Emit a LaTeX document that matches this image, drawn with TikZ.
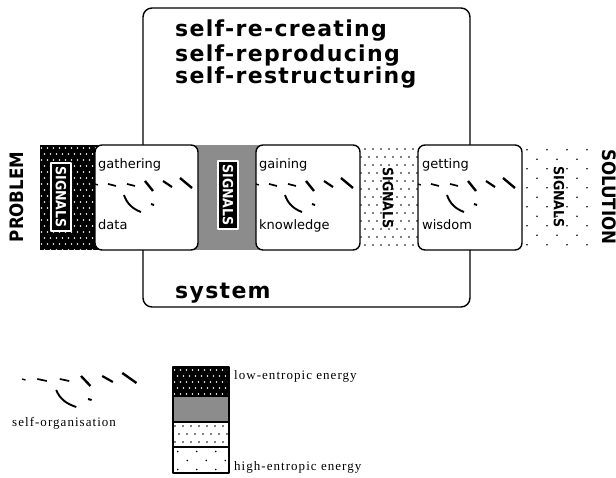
\documentclass[tikz,border=0pt]{standalone}
\usepackage{fontspec}
\setmainfont{DejaVu Sans}
\newfontfamily\titlefont[LetterSpace=6]{DejaVu Sans}
\newfontfamily\condfont{DejaVu Sans Condensed}
\newfontfamily\legendfont[LetterSpace=8]{Liberation Serif}

% staggered field of dots: x0 y0 x1 y1 dx dy colour
\newcommand\dotgrid[7]{%
  \begin{scope}
    \clip (#1,#2) rectangle (#3,#4);
    \pgfmathtruncatemacro\dgrows{(#4-#2)/#6+1}
    \pgfmathtruncatemacro\dgcols{(#3-#1)/#5+1}
    \foreach \r in {0,...,\dgrows}{
      \foreach \c in {0,...,\dgcols}{
        \pgfmathsetmacro\dgx{#1+#5/4+mod(\r,2)*#5/2+\c*#5}
        \pgfmathsetmacro\dgy{#2+#6/2+\r*#6}
        \fill[#7] (\dgx,\dgy) circle (0.95pt);
      }
    }
  \end{scope}}

\tikzset{
  band/.style={minimum height=105pt, inner sep=0pt, outer sep=0pt},
  stage/.style={draw, line width=1.4pt, rounded corners=7pt, fill=white,
    minimum height=105pt, inner sep=0pt},
  sigbox/.style={rotate=-90, fill=black, draw=white, line width=1.6pt, text=white,
    font=\condfont\bfseries\fontsize{14}{14}\selectfont, inner xsep=3pt, inner ysep=5pt},
  sigtext/.style={rotate=-90, font=\condfont\bfseries\fontsize{14}{14}\selectfont, inner sep=0pt},
  side/.style={font=\condfont\bfseries\fontsize{18.5}{18.5}\selectfont, inner sep=0pt},
  title/.style={anchor=base west, font=\titlefont\bfseries\fontsize{22}{22}\selectfont, inner sep=0pt},
  word/.style={anchor=base west, font=\fontsize{13}{13}\selectfont, inner sep=0pt},
  legendtext/.style={anchor=base west, font=\legendfont\fontsize{13}{13}\selectfont, inner sep=0pt},
  selforg/.pic={
    \draw[line width=1.3pt] (0,1) -- (3,2);
    \draw[line width=1.7pt] (13,1) -- (21,3);
    \draw[line width=1.7pt] (32,1) -- (40,3);
    \draw[line width=2.4pt] (50,-2) -- (58,8);
    \draw[line width=2.2pt] (68,-2) -- (77,4);
    \draw[line width=2.4pt] (85,-5) -- (97,5);
    \draw[line width=1.9pt] (29,12) .. controls (32,21) and (38,26) .. (46,29);
    \draw[line width=2pt] (56,21) -- (59,22);
  }
}

\begin{document}
\begin{tikzpicture}[x=1pt, y=-1pt, line join=round]
\useasboundingbox (0,0) rectangle (616,478);

% the system frame
\node[draw, line width=1.4pt, rounded corners=9pt, minimum width=327pt,
  minimum height=299pt, inner sep=0pt] (sys) at (306.5,157.5) {};

% energy bands
\node[band, fill=black, minimum width=60pt] (b1) at (70,197.5) {};
\node[band, fill=black!45, minimum width=68pt] (b2) at (227,197.5) {};
\node[band, fill=white, minimum width=68pt] (b3) at (389,197.5) {};
\node[band, minimum width=73pt] (b4) at (553.5,197.5) {};
\dotgrid{40}{145}{100}{250}{6}{6}{white}
\dotgrid{355}{145}{423}{250}{8}{8}{black}
\dotgrid{522}{145}{590}{250}{20}{9.5}{black}

% stages
\node[stage, minimum width=103pt] (s1) at (146.5,197.5) {};
\node[stage, minimum width=104pt] (s2) at (308,197.5) {};
\node[stage, minimum width=104pt] (s3) at (470,197.5) {};

\pic at (95,183) {selforg};
\pic at (256,183) {selforg};
\pic at (418,183) {selforg};

% signal labels
\node[sigbox] (l1) at (61,197) {SIGNALS};
\node[sigbox] (l2) at (228,195) {SIGNALS};
\node[sigtext] (l3) at (388,198) {SIGNALS};
\node[sigtext] (l4) at (559,197) {SIGNALS};

\node[side, rotate=90] (prob) at (17,197) {PROBLEM};
\node[side, rotate=-90] (sol) at (609,197) {SOLUTION};

% titles
\node[title] (t1) at (175,37) {self-re-creating};
\node[title] (t2) at (175,62) {self-reproducing};
\node[title] (t3) at (175,84) {self-restructuring};
\node[title] (t4) at (175,299) {system};

% stage words
\node[word] (w1) at (98,169) {gathering};
\node[word] (w2) at (98,230) {data};
\node[word] (w3) at (259,169) {gaining};
\node[word] (w4) at (259,230) {knowledge};
\node[word] (w5) at (422,169) {getting};
\node[word] (w6) at (422,230) {wisdom};

% legend: self-organisation
\pic[xscale=1.18] at (22,378) {selforg};
\node[legendtext] (lso) at (12,426) {self-organisation};

% legend: energy scale
\node[band, fill=black, minimum width=56pt, minimum height=29pt] (e1) at (201,381.5) {};
\dotgrid{173}{367}{229}{396}{6}{6}{white}
\node[band, fill=black!45, minimum width=56pt, minimum height=26pt] (e2) at (201,409) {};
\node[band, minimum width=56pt, minimum height=25pt] (e3) at (201,434.5) {};
\dotgrid{173}{422}{229}{447}{8}{8}{black}
\node[band, minimum width=56pt, minimum height=26pt] (e4) at (201,460) {};
\dotgrid{173}{447}{229}{473}{19}{9}{black}
\draw[line width=1.2pt] (e1.north west) rectangle (e4.south east);
\draw[line width=1.2pt] (e2.north west) -- (e2.north east)
  (e3.north west) -- (e3.north east) (e4.north west) -- (e4.north east);
\node[legendtext] (low) at (234,379) {low-entropic energy};
\node[legendtext] (high) at (234,470) {high-entropic energy};
\end{tikzpicture}
\end{document}
